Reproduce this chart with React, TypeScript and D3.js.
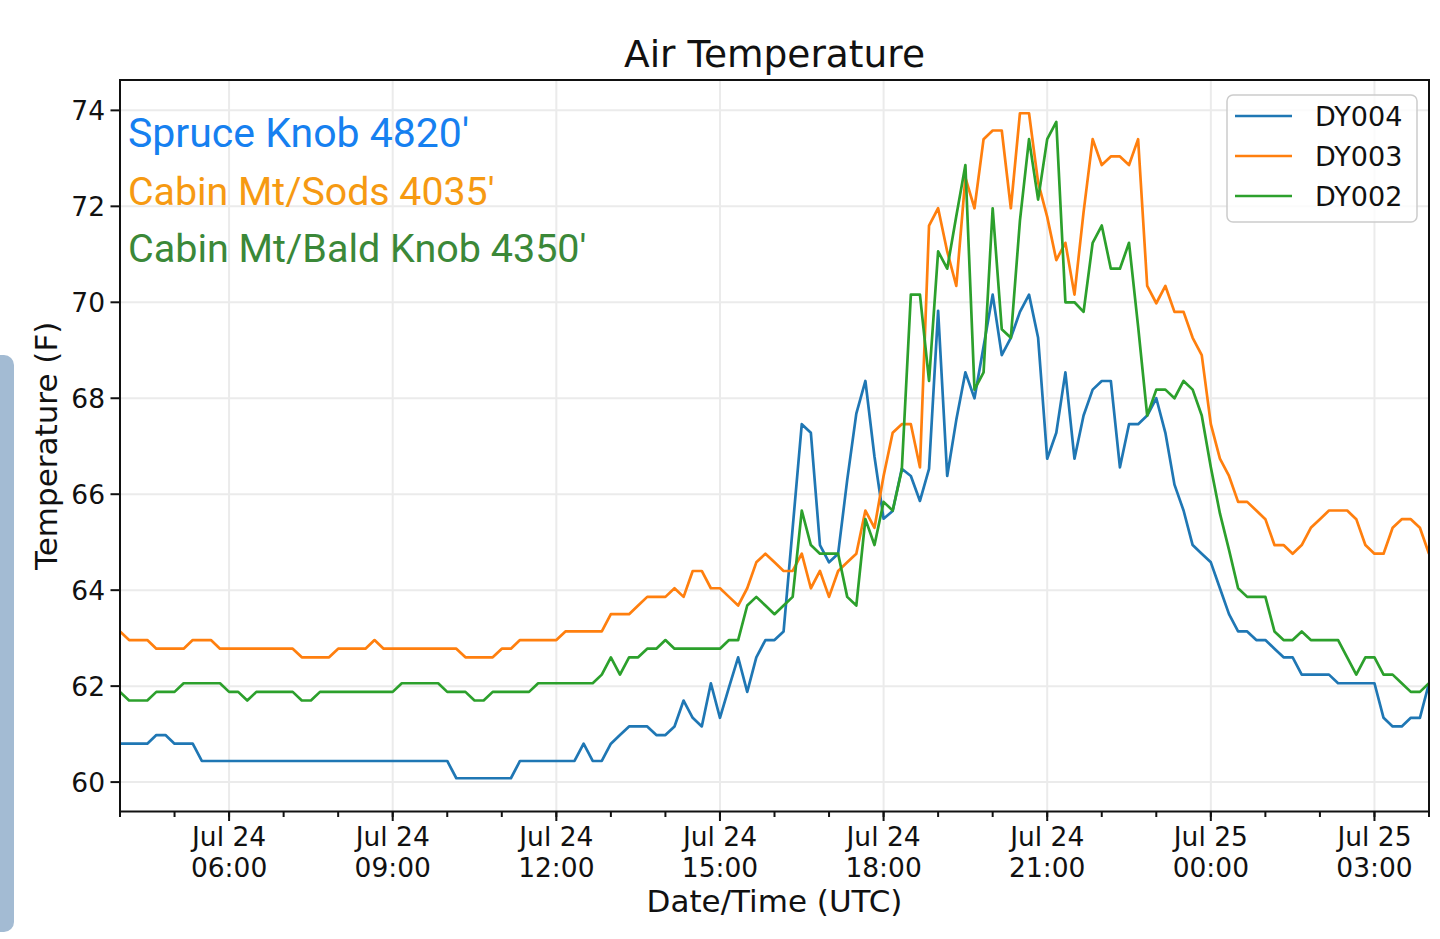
import React, { useEffect, useRef } from 'react';
import * as d3 from 'd3';

// 10-minute samples, Jul 24 04:00 UTC -> Jul 25 04:00 UTC
const START = Date.UTC(2019, 6, 24, 4, 0);
const STEP_MIN = 10;

const SERIES_NAMES = ['DY004', 'DY003', 'DY002'];
const SERIES_COLORS = ['#1f77b4', '#ff7f0e', '#2ca02c'];

const DY004 = [
  60.8, 60.8, 60.8, 60.8, 60.98, 60.98, 60.8, 60.8, 60.8, 60.44,
  60.44, 60.44, 60.44, 60.44, 60.44, 60.44, 60.44, 60.44, 60.44, 60.44,
  60.44, 60.44, 60.44, 60.44, 60.44, 60.44, 60.44, 60.44, 60.44, 60.44,
  60.44, 60.44, 60.44, 60.44, 60.44, 60.44, 60.44, 60.08, 60.08, 60.08,
  60.08, 60.08, 60.08, 60.08, 60.44, 60.44, 60.44, 60.44, 60.44, 60.44,
  60.44, 60.8, 60.44, 60.44, 60.8, 60.98, 61.16, 61.16, 61.16, 60.98,
  60.98, 61.16, 61.7, 61.34, 61.16, 62.06, 61.34, 61.98, 62.6, 61.88,
  62.6, 62.96, 62.96, 63.14, 65.3, 67.46, 67.28, 64.94, 64.58, 64.76,
  66.3, 67.68, 68.36, 66.78, 65.49, 65.65, 66.53, 66.38, 65.86, 66.53,
  69.82, 66.38, 67.55, 68.54, 68.0, 69.08, 70.16, 68.9, 69.26, 69.8,
  70.16, 69.26, 66.74, 67.28, 68.54, 66.74, 67.64, 68.18, 68.36, 68.36,
  66.56, 67.46, 67.46, 67.64, 68.0, 67.28, 66.2, 65.66, 64.94, 64.76,
  64.58, 64.04, 63.5, 63.14, 63.14, 62.96, 62.96, 62.78, 62.6, 62.6,
  62.24, 62.24, 62.24, 62.24, 62.06, 62.06, 62.06, 62.06, 62.06, 61.34,
  61.16, 61.16, 61.34, 61.34, 62.06,
];

const DY003 = [
  63.14, 62.96, 62.96, 62.96, 62.78, 62.78, 62.78, 62.78, 62.96, 62.96,
  62.96, 62.78, 62.78, 62.78, 62.78, 62.78, 62.78, 62.78, 62.78, 62.78,
  62.6, 62.6, 62.6, 62.6, 62.78, 62.78, 62.78, 62.78, 62.96, 62.78,
  62.78, 62.78, 62.78, 62.78, 62.78, 62.78, 62.78, 62.78, 62.6, 62.6,
  62.6, 62.6, 62.78, 62.78, 62.96, 62.96, 62.96, 62.96, 62.96, 63.14,
  63.14, 63.14, 63.14, 63.14, 63.5, 63.5, 63.5, 63.68, 63.86, 63.86,
  63.86, 64.04, 63.86, 64.4, 64.4, 64.04, 64.04, 63.86, 63.68, 64.04,
  64.58, 64.76, 64.58, 64.4, 64.4, 64.76, 64.04, 64.4, 63.86, 64.4,
  64.58, 64.76, 65.66, 65.3, 66.38, 67.28, 67.46, 67.46, 66.56, 71.6,
  71.96, 71.06, 70.34, 72.6, 71.96, 73.4, 73.58, 73.58, 71.96, 73.94,
  73.94, 72.5, 71.78, 70.88, 71.24, 70.16, 71.88, 73.4, 72.86, 73.04,
  73.04, 72.86, 73.4, 70.34, 69.98, 70.34, 69.8, 69.8, 69.26, 68.9,
  67.46, 66.74, 66.38, 65.84, 65.84, 65.66, 65.48, 64.94, 64.94, 64.76,
  64.94, 65.3, 65.48, 65.66, 65.66, 65.66, 65.48, 64.94, 64.76, 64.76,
  65.3, 65.48, 65.48, 65.3, 64.76,
];

const DY002 = [
  61.88, 61.7, 61.7, 61.7, 61.88, 61.88, 61.88, 62.06, 62.06, 62.06,
  62.06, 62.06, 61.88, 61.88, 61.7, 61.88, 61.88, 61.88, 61.88, 61.88,
  61.7, 61.7, 61.88, 61.88, 61.88, 61.88, 61.88, 61.88, 61.88, 61.88,
  61.88, 62.06, 62.06, 62.06, 62.06, 62.06, 61.88, 61.88, 61.88, 61.7,
  61.7, 61.88, 61.88, 61.88, 61.88, 61.88, 62.06, 62.06, 62.06, 62.06,
  62.06, 62.06, 62.06, 62.24, 62.6, 62.24, 62.6, 62.6, 62.78, 62.78,
  62.96, 62.78, 62.78, 62.78, 62.78, 62.78, 62.78, 62.96, 62.96, 63.68,
  63.86, 63.68, 63.5, 63.68, 63.86, 65.66, 64.94, 64.76, 64.76, 64.76,
  63.86, 63.68, 65.48, 64.94, 65.84, 65.66, 66.5, 70.16, 70.16, 68.36,
  71.06, 70.7, 71.8, 72.86, 68.18, 68.54, 71.96, 69.44, 69.26, 71.7,
  73.4, 72.14, 73.4, 73.76, 70.0, 70.0, 69.8, 71.24, 71.6, 70.7,
  70.7, 71.24, 69.5, 67.64, 68.18, 68.18, 68.0, 68.36, 68.18, 67.64,
  66.56, 65.6, 64.84, 64.04, 63.86, 63.86, 63.86, 63.14, 62.96, 62.96,
  63.14, 62.96, 62.96, 62.96, 62.96, 62.6, 62.24, 62.6, 62.6, 62.24,
  62.24, 62.06, 61.88, 61.88, 62.06,
];

const Y_TICKS = [60, 62, 64, 66, 68, 70, 72, 74];

const STATION_LABELS = ["Spruce Knob 4820'", "Cabin Mt/Sods 4035'", "Cabin Mt/Bald Knob 4350'"];
const STATION_COLORS = ['#1680f0', '#f69a12', '#3b8838'];
const STATION_SIZES = [41, 39.3, 39.5];

const MPL_FONT = '"DejaVu Sans", sans-serif';

export default function App() {
  const svgRef = useRef<SVGSVGElement>(null);

  useEffect(() => {
    if (!svgRef.current) return;
    const svg = d3.select(svgRef.current);
    svg.selectAll('*').remove();

    const left = 120, right = 1429, top = 80, bottom = 811.5;
    const series = [DY004, DY003, DY002];
    const times = DY004.map((_, i) => new Date(START + i * STEP_MIN * 60000));

    const x = d3.scaleUtc()
      .domain([times[0], times[times.length - 1]])
      .range([left, right]);

    const all = series.flat();
    const [lo, hi] = d3.extent(all) as [number, number];
    const pad = (hi - lo) * 0.05;
    const y = d3.scaleLinear().domain([lo - pad, hi + pad]).range([bottom, top]);

    // side tab from the screenshot
    svg.append('rect')
      .attr('x', -12).attr('y', 355).attr('width', 26).attr('height', 577)
      .attr('rx', 10).attr('fill', '#a3bbd3');

    // grid
    const majorX = x.ticks(d3.utcHour.every(3)!);
    const minorX = x.ticks(d3.utcHour.every(1)!);
    const grid = svg.append('g').attr('stroke', '#ebebeb').attr('stroke-width', 2);
    majorX.forEach(t => {
      grid.append('line').attr('x1', x(t)).attr('x2', x(t)).attr('y1', top).attr('y2', bottom);
    });
    Y_TICKS.forEach(v => {
      grid.append('line').attr('x1', left).attr('x2', right).attr('y1', y(v)).attr('y2', y(v));
    });

    // lines
    svg.append('clipPath').attr('id', 'plotclip')
      .append('rect').attr('x', left).attr('y', top)
      .attr('width', right - left).attr('height', bottom - top);

    const line = d3.line<number>()
      .x((_, i) => x(times[i]))
      .y(d => y(d));

    series.forEach((s, k) => {
      svg.append('path')
        .attr('d', line(s))
        .attr('fill', 'none')
        .attr('stroke', SERIES_COLORS[k])
        .attr('stroke-width', 2.7)
        .attr('stroke-linejoin', 'round')
        .attr('clip-path', 'url(#plotclip)');
    });

    // spines
    svg.append('rect')
      .attr('x', left).attr('y', top)
      .attr('width', right - left).attr('height', bottom - top)
      .attr('fill', 'none').attr('stroke', '#111').attr('stroke-width', 2);

    // x ticks
    const fmtDay = d3.utcFormat('%b %d');
    const fmtHour = d3.utcFormat('%H:%M');
    const ticks = svg.append('g').attr('stroke', '#111').attr('stroke-width', 2);
    minorX.forEach(t => {
      ticks.append('line').attr('x1', x(t)).attr('x2', x(t)).attr('y1', bottom).attr('y2', bottom + 5.5);
    });
    majorX.forEach(t => {
      ticks.append('line').attr('x1', x(t)).attr('x2', x(t)).attr('y1', bottom).attr('y2', bottom + 9.5);
      const lbl = svg.append('text')
        .attr('x', x(t)).attr('text-anchor', 'middle')
        .style('font-family', MPL_FONT).style('font-size', '26.5px').attr('fill', '#111');
      lbl.append('tspan').attr('x', x(t)).attr('y', 846).text(fmtDay(t));
      lbl.append('tspan').attr('x', x(t)).attr('y', 877).text(fmtHour(t));
    });

    // y ticks
    Y_TICKS.forEach(v => {
      ticks.append('line').attr('x1', left - 9.5).attr('x2', left).attr('y1', y(v)).attr('y2', y(v));
      svg.append('text')
        .attr('x', left - 15).attr('y', y(v) + 9.6)
        .attr('text-anchor', 'end')
        .style('font-family', MPL_FONT).style('font-size', '26.5px').attr('fill', '#111')
        .text(v);
    });

    // titles
    svg.append('text')
      .attr('x', (left + right) / 2).attr('y', 67)
      .attr('text-anchor', 'middle')
      .style('font-family', MPL_FONT).style('font-size', '37.5px').attr('fill', '#111')
      .text('Air Temperature');

    svg.append('text')
      .attr('x', (left + right) / 2).attr('y', 912)
      .attr('text-anchor', 'middle')
      .style('font-family', MPL_FONT).style('font-size', '31px').attr('fill', '#111')
      .text('Date/Time (UTC)');

    svg.append('text')
      .attr('transform', `translate(57, ${(top + bottom) / 2}) rotate(-90)`)
      .attr('text-anchor', 'middle')
      .style('font-family', MPL_FONT).style('font-size', '31px').attr('fill', '#111')
      .text('Temperature (F)');

    // station labels
    STATION_LABELS.forEach((s, i) => {
      svg.append('text')
        .attr('x', 128).attr('y', 147 + i * 57.5)
        .style('font-family', 'Roboto, sans-serif').style('font-size', `${STATION_SIZES[i]}px`)
        .attr('fill', STATION_COLORS[i])
        .text(s);
    });

    // Legend
    const legend = svg.append('g').attr('transform', 'translate(1227, 95)');
    legend.append('rect')
      .attr('width', 190).attr('height', 127).attr('rx', 6)
      .attr('fill', 'white').attr('fill-opacity', 0.8)
      .attr('stroke', '#cccccc').attr('stroke-width', 1.5);

    SERIES_NAMES.forEach((name, i) => {
      const row = legend.append('g').attr('transform', `translate(0, ${21 + i * 40})`);
      row.append('line')
        .attr('x1', 8).attr('x2', 65).attr('y1', 0).attr('y2', 0)
        .attr('stroke', SERIES_COLORS[i]).attr('stroke-width', 2.7);
      row.append('text')
        .attr('x', 88).attr('y', 10)
        .style('font-family', MPL_FONT).style('font-size', '27px').attr('fill', '#111')
        .text(name);
    });
  }, []);

  return (
    <svg ref={svgRef} width="1440" height="939"
      style={{ position: 'absolute', left: 0, top: 0, background: 'white' }} />
  );
}
